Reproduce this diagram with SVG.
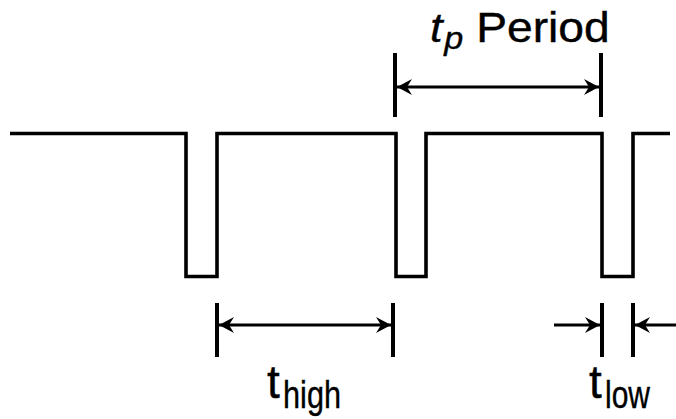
<svg xmlns="http://www.w3.org/2000/svg" width="676" height="419" viewBox="0 0 676 419">
<style>
.ln{fill:none;stroke:#000;stroke-width:3.6;stroke-linejoin:miter;stroke-linecap:butt}
.tk{stroke:#000;stroke-width:4}
.ar{stroke:#000;stroke-width:3;fill:none}
.tx{font-family:"Liberation Sans",Arial,sans-serif;fill:#000;stroke:#000;stroke-width:0.4}
</style>
<defs>
<marker id="ah" markerUnits="userSpaceOnUse" markerWidth="20" markerHeight="20" viewBox="-16 -10 20 20" refX="0" refY="0" orient="auto-start-reverse">
<path d="M0,0 L-15,-8 L-10,0 L-15,8 Z" fill="#000"/>
</marker>
</defs>
<g id="signal">
<path class="ln" d="M10,133.5 H186 V276.5 H217 V133.5 H396 V276.5 H426 V133.5 H602 V276.5 H633 V133.5 H670"/>
</g>
<g id="connectors">
<line class="tk" x1="395" y1="53" x2="395" y2="117"/>
<line class="tk" x1="601" y1="53" x2="601" y2="117"/>
<line class="ar" x1="397" y1="87" x2="599" y2="87" marker-start="url(#ah)" marker-end="url(#ah)"/>
<line class="tk" x1="217" y1="303" x2="217" y2="357"/>
<line class="tk" x1="393" y1="303" x2="393" y2="357"/>
<line class="ar" x1="219" y1="325" x2="391" y2="325" marker-start="url(#ah)" marker-end="url(#ah)"/>
<line class="tk" x1="602" y1="303" x2="602" y2="357"/>
<line class="tk" x1="633" y1="303" x2="633" y2="357"/>
<line class="ar" x1="554" y1="325" x2="600" y2="325" marker-end="url(#ah)"/>
<line class="ar" x1="676" y1="325" x2="635" y2="325" marker-end="url(#ah)"/>
</g>
<g id="label-period" transform="translate(430,42) scale(1.1,1)">
<text class="tx" x="0" y="0" font-size="41" font-style="italic">t</text>
<text class="tx" x="13" y="7" font-size="31" font-style="italic">p</text>
<text class="tx" x="42" y="0" font-size="42">Period</text>
</g>
<g id="label-high">
<text class="tx" x="267" y="398" font-size="46">t</text>
<text class="tx" x="283" y="408" font-size="39" textLength="58" lengthAdjust="spacingAndGlyphs">high</text>
</g>
<g id="label-low">
<text class="tx" x="589" y="398" font-size="46">t</text>
<text class="tx" x="605" y="408" font-size="39" textLength="45" lengthAdjust="spacingAndGlyphs">low</text>
</g>
</svg>
